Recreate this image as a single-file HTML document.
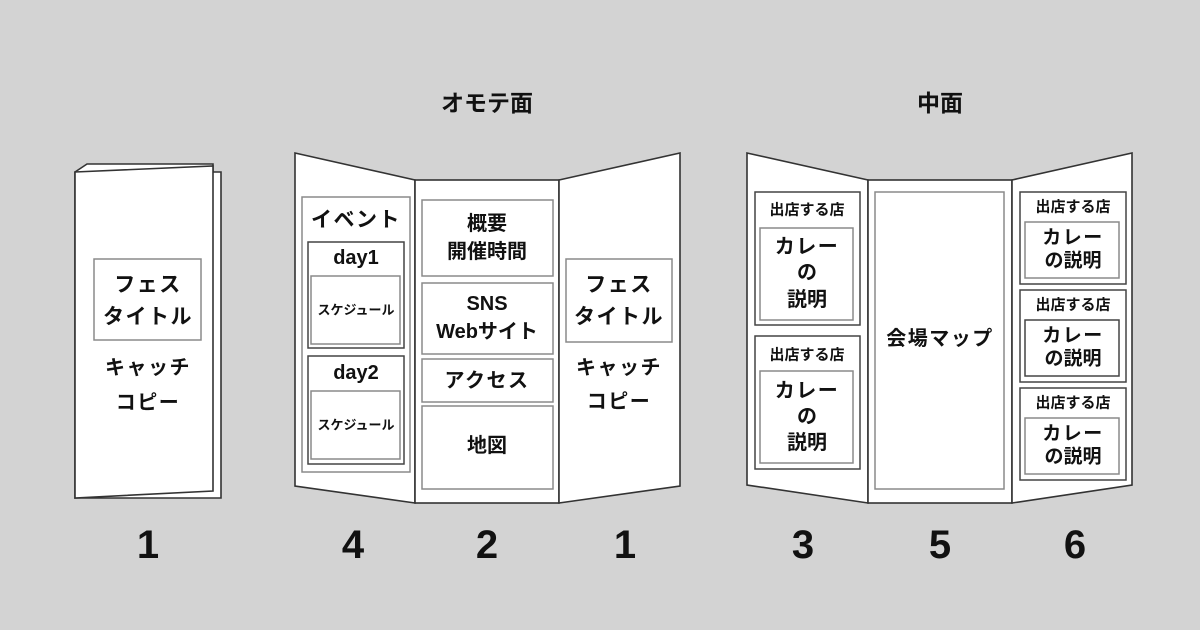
<!DOCTYPE html>
<html><head><meta charset="utf-8"><style>
html,body{margin:0;padding:0;background:#d3d3d3;}
svg{display:block}
text{font-family:"Liberation Sans","Noto Sans CJK JP",sans-serif;font-weight:bold;fill:#111;text-anchor:middle;dominant-baseline:central}
.ls{letter-spacing:1.5px}
.o{fill:#fff;stroke:#333;stroke-width:1.6}
.b{fill:#fff;stroke:#8a8a8a;stroke-width:1.5}
.d{fill:#fff;stroke:#444;stroke-width:1.5}
</style></head><body>
<svg width="1200" height="630" viewBox="0 0 1200 630">
<rect width="1200" height="630" fill="#d3d3d3"/>
<!-- folded -->
<polygon class="o" points="87,164 213,164 213,172 221,172 221,498 75,498 75,172"/>
<polygon class="o" points="75,172 213,166 213,491 75,498"/>
<rect class="b" x="94" y="259" width="107" height="81"/>
<g class="ls">
<text x="148" y="285" font-size="21">フェス</text>
<text x="148" y="317" font-size="21">タイトル</text>
<text x="148" y="368" font-size="20">キャッチ</text>
<text x="148" y="403" font-size="20">コピー</text>
</g>

<text x="487" y="103" font-size="23">オモテ面</text>
<text x="940" y="103" font-size="23">中面</text>

<!-- group 1 -->
<polygon class="o" points="295,153 415,180 415,503 295,486"/>
<rect class="o" x="415" y="180" width="144" height="323"/>
<polygon class="o" points="559,180 680,153 680,486 559,503"/>
<rect class="b" x="302" y="197" width="108" height="275"/>
<text class="ls" x="356" y="220" font-size="21">イベント</text>
<rect class="d" x="308" y="242" width="96" height="106"/>
<text x="356" y="258" font-size="20">day1</text>
<rect class="b" x="311" y="276" width="89" height="68"/>
<text x="356" y="310" font-size="13">スケジュール</text>
<rect class="d" x="308" y="356" width="96" height="108"/>
<text x="356" y="373" font-size="20">day2</text>
<rect class="b" x="311" y="391" width="89" height="68"/>
<text x="356" y="425" font-size="13">スケジュール</text>

<rect class="b" x="422" y="200" width="131" height="76"/>
<text x="487" y="224" font-size="20">概要</text>
<text x="487" y="252" font-size="20">開催時間</text>
<rect class="b" x="422" y="283" width="131" height="71"/>
<text x="487" y="304" font-size="20">SNS</text>
<text x="487" y="332" font-size="20">Webサイト</text>
<rect class="b" x="422" y="359" width="131" height="43"/>
<text class="ls" x="487" y="381" font-size="20">アクセス</text>
<rect class="b" x="422" y="406" width="131" height="83"/>
<text x="487" y="446" font-size="20">地図</text>

<rect class="b" x="566" y="259" width="106" height="83"/>
<g class="ls">
<text x="619" y="285" font-size="21">フェス</text>
<text x="619" y="317" font-size="21">タイトル</text>
<text x="619" y="368" font-size="20">キャッチ</text>
<text x="619" y="402" font-size="20">コピー</text>
</g>

<!-- group 2 -->
<polygon class="o" points="747,153 868,180 868,503 747,485"/>
<rect class="o" x="868" y="180" width="144" height="323"/>
<polygon class="o" points="1012,180 1132,153 1132,485 1012,503"/>

<rect class="d" x="755" y="192" width="105" height="133"/>
<text x="807" y="210" font-size="15">出店する店</text>
<rect class="b" x="760" y="228" width="93" height="92"/>
<text class="ls" x="807" y="247" font-size="20">カレー</text>
<text x="807" y="273" font-size="20">の</text>
<text x="807" y="300" font-size="20">説明</text>
<rect class="d" x="755" y="336" width="105" height="133"/>
<text x="807" y="355" font-size="15">出店する店</text>
<rect class="b" x="760" y="371" width="93" height="92"/>
<text class="ls" x="807" y="391" font-size="20">カレー</text>
<text x="807" y="417" font-size="20">の</text>
<text x="807" y="443" font-size="20">説明</text>

<rect class="b" x="875" y="192" width="129" height="297"/>
<text class="ls" x="940" y="339" font-size="20">会場マップ</text>

<rect class="d" x="1020" y="192" width="106" height="92"/>
<text x="1073" y="207" font-size="15">出店する店</text>
<rect class="b" x="1025" y="222" width="94" height="56"/>
<text class="ls" x="1073" y="238" font-size="19">カレー</text>
<text x="1073" y="261" font-size="19">の説明</text>
<rect class="d" x="1020" y="290" width="106" height="92"/>
<text x="1073" y="305" font-size="15">出店する店</text>
<rect class="d" x="1025" y="320" width="94" height="56"/>
<text class="ls" x="1073" y="336" font-size="19">カレー</text>
<text x="1073" y="359" font-size="19">の説明</text>
<rect class="d" x="1020" y="388" width="106" height="92"/>
<text x="1073" y="403" font-size="15">出店する店</text>
<rect class="b" x="1025" y="418" width="94" height="56"/>
<text class="ls" x="1073" y="434" font-size="19">カレー</text>
<text x="1073" y="457" font-size="19">の説明</text>

<!-- numbers -->
<g font-size="40">
<text x="148" y="545">1</text>
<text x="353" y="545">4</text>
<text x="487" y="545">2</text>
<text x="625" y="545">1</text>
<text x="803" y="545">3</text>
<text x="940" y="545">5</text>
<text x="1075" y="545">6</text>
</g>
</svg>
</body></html>
